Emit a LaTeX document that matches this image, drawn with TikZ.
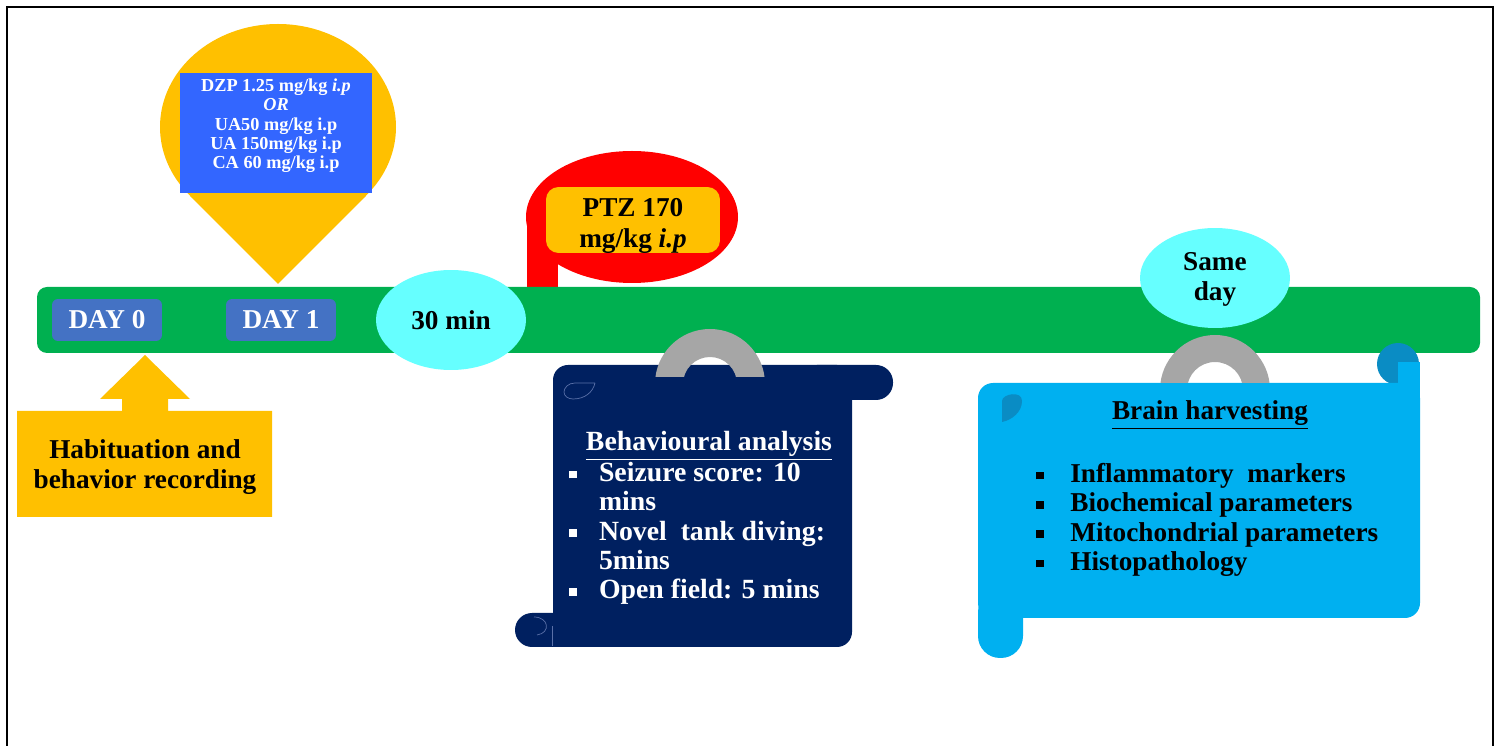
\documentclass[tikz,border=0pt]{standalone}
\usepackage{fontspec}
\setmainfont{Liberation Serif}
\usetikzlibrary{positioning, shapes.geometric}

\definecolor{pinyellow}{HTML}{FFC000}
\definecolor{bargreen}{HTML}{00B050}
\definecolor{daybl}{HTML}{4472C4}
\definecolor{timecyan}{HTML}{66FFFF}
\definecolor{drugblue}{HTML}{3366FF}
\definecolor{ptzred}{HTML}{FF0000}
\definecolor{navyscroll}{HTML}{002060}
\definecolor{skyscroll}{HTML}{00B0F0}
\definecolor{curlblue}{HTML}{0A8CC4}
\definecolor{hookgray}{HTML}{A6A6A6}
\definecolor{curlline}{HTML}{5A70A8}

\newcommand{\sqbul}{\rule[0.25ex]{0.28em}{0.28em}}
\newcommand{\bulA}{\makebox[1.07em][l]{\sqbul}}
\newcommand{\bulB}{\makebox[1.25em][l]{\sqbul}}

\begin{document}
\begin{tikzpicture}[
    x=0.02cm, y=-0.02cm,
    daybox/.style={fill=daybl, rounded corners=0.12cm, minimum width=2.2cm, minimum height=0.84cm,
        text=white, font=\fontsize{15.5}{17}\selectfont\bfseries},
    timeoval/.style={ellipse, fill=timecyan, minimum width=3cm, minimum height=2cm, inner sep=0pt,
        align=center, font=\fontsize{15.5}{17}\selectfont\bfseries},
    bigtxt/.style={font=\fontsize{15.5}{17}\selectfont\bfseries, align=center, inner sep=0pt},
    listtxt/.style={font=\fontsize{15.8}{16.7}\selectfont\bfseries, align=left, inner sep=0pt}
]
    % frame
    \useasboundingbox (0,0) rectangle (1499,746);
    \draw[line width=0.8pt] (7,746) -- (7,7) -- (1493,7) -- (1493,746);

    % drug pin
    \fill[pinyellow] (278,127) ellipse [x radius=118, y radius=103];
    \fill[pinyellow] (190,196) -- (278,284) -- (366,196) -- cycle;
    \node[fill=drugblue, minimum width=3.84cm, minimum height=2.42cm] (drugbox) at (276,133) {};
    \node[text=white, align=center, inner sep=0pt, font=\fontsize{10.4}{11}\selectfont\bfseries]
        (drugtxt) at (276,126) {DZP 1.25 mg/kg \textit{i.p}\\\textit{OR}\\UA50 mg/kg i.p\\UA 150mg/kg i.p\\CA 60 mg/kg i.p};

    % PTZ balloon
    \fill[ptzred] (632,217) ellipse [x radius=106, y radius=66];
    \fill[ptzred] (527,225) rectangle (558,287);
    \node[fill=pinyellow, rounded corners=0.25cm, minimum width=3.48cm, minimum height=1.32cm] (ptzbox) at (633,220) {};
    \node[bigtxt, font=\fontsize{15.5}{17.6}\selectfont\bfseries] (ptztxt) at (633,226) {PTZ 170\\mg/kg \textit{i.p}};

    % timeline
    \fill[bargreen, rounded corners=0.2cm] (37,287) rectangle (1480,353);
    \node[daybox] (day0) at (107,320) {DAY 0};
    \node[daybox] (day1) at (281,320) {DAY 1};
    \node[timeoval] (thirty) at (451,320) {30 min};
    \node[timeoval] (sameday) at (1215,278) {\strut Same\\day};

    % habituation callout
    \fill[pinyellow] (17,411) -- (122,411) -- (122,399) -- (100,399) -- (145,355) -- (190,399)
        -- (168,399) -- (168,411) -- (272,411) -- (272,517) -- (17,517) -- cycle;
    \node[bigtxt] (habit) at (145,467) {Habituation and\\behavior recording};

    % behavioural scroll
    \fill[navyscroll, rounded corners=0.3cm] (553,365) rectangle (852,647);
    \fill[navyscroll, rounded corners=0.34cm] (800,365) rectangle (893,400);
    \fill[navyscroll, rounded corners=0.34cm] (515,613) rectangle (600,647);
    \draw[curlline, line width=0.4pt] (595,383) -- (575,383) .. controls (568,383) and (564,388) .. (564,392)
        .. controls (564,396) and (568,399) .. (573,399) .. controls (585,399) and (593,392) .. (595,383);
    \draw[curlline, line width=0.4pt] (534,617) .. controls (549,617) and (551,633) .. (537,635);
    \draw[curlline, line width=0.4pt] (552,626) -- (552,646);
    \begin{scope}
        \clip (640,300) rectangle (780,377);
        \fill[hookgray, even odd rule] (710,384) circle [radius=55] (710,384) circle [radius=27];
    \end{scope}
    \node[bigtxt, text=white, font=\fontsize{15.8}{17}\selectfont\bfseries] (behavhead) at (709,446)
        {\underline{Behavioural analysis}};
    \node[listtxt, text=white, anchor=north west] (behavlist) at (569,462)
        {\bulA Seizure score: 10\\\hspace*{1.07em}mins\\\bulA Novel\ \ tank diving:\\\hspace*{1.07em}5mins\\\bulA Open field: 5 mins};

    % brain scroll
    \fill[curlblue] (1398,364) circle [radius=21];
    \fill[skyscroll, rounded corners=0.3cm] (978,383) rectangle (1420,618);
    \fill[skyscroll, rounded corners=0.44cm] (978,590) rectangle (1023,658);
    \fill[skyscroll] (1398,362) rectangle (1420,400);
    \fill[curlblue] (1002,422) -- (1002,401) .. controls (1002,394) and (1022,390) .. (1022,401)
        .. controls (1022,412) and (1012,420) .. (1002,422) -- cycle;
    \begin{scope}
        \clip (1140,300) rectangle (1290,383);
        \fill[hookgray, even odd rule] (1215,390) circle [radius=55] (1215,390) circle [radius=28];
    \end{scope}
    \node[bigtxt, font=\fontsize{15.5}{17}\selectfont\bfseries] (brainhead) at (1210,415)
        {\underline{Brain harvesting}};
    \node[listtxt, font=\fontsize{15.5}{16.7}\selectfont\bfseries, anchor=north west] (brainlist) at (1036,463)
        {\bulB Inflammatory\ \ markers\\\bulB Biochemical parameters\\\bulB Mitochondrial parameters\\\bulB Histopathology};
\end{tikzpicture}
\end{document}
